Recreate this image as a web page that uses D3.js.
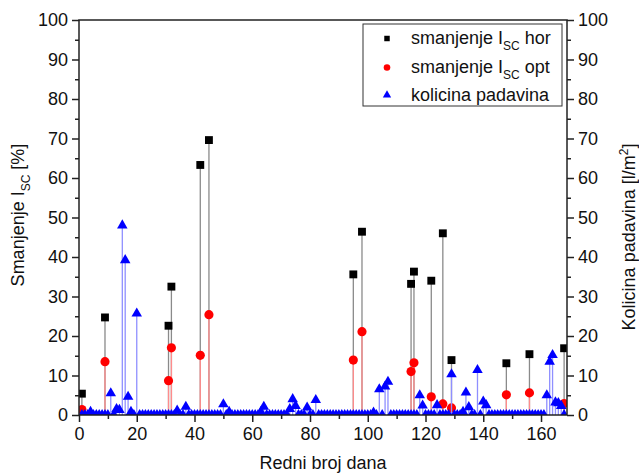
<!DOCTYPE html>
<html><head><meta charset="utf-8">
<script src="https://cdn.jsdelivr.net/npm/d3@7"></script>
<style>body{margin:0;background:#fff} text{font-family:"Liberation Sans",Arial,sans-serif;fill:#111}</style>
</head><body><svg id="c" width="639" height="473"></svg>
<script>
// ---- data ----
const pointDays = [1, 9, 31, 32, 42, 45, 95, 98, 115, 116, 122, 126, 129, 148, 156, 168];
const horValues = [5.4, 24.7, 22.6, 32.5, 63.3, 69.6, 35.6, 46.4, 33.2, 36.3, 34.0, 46.0, 13.9, 13.1, 15.4, 16.9];
const optValues = [1.4, 13.5, 8.7, 17.0, 15.1, 25.4, 13.9, 21.1, 11.0, 13.2, 4.6, 2.8, 1.8, 5.1, 5.6, 2.9];
const rainDays = d3.range(1, 169);
const rainValues = [
  0, 0, 0, 0.8, 0, 0, 0, 0, 0, 0,
  5.5, 0, 1.5, 1.3, 48.0, 39.2, 4.6, 0.8, 0, 25.7,
  0, 0, 0, 0, 0, 0, 0, 0, 0, 0,
  0, 0, 0, 1.1, 0, 0, 2.1, 0, 0, 0,
  0, 0, 0, 0, 0, 0, 0, 0, 0, 2.7,
  0, 0.8, 0, 0, 0, 0, 0, 0, 0, 0,
  0, 0, 0.8, 2.1, 0, 0, 0, 0, 0, 0,
  0, 0, 1.5, 4.0, 2.3, 0, 0, 0, 1.9, 0,
  0, 3.8, 0, 0, 0, 0, 0, 0, 0, 0,
  0, 0, 0, 0, 0, 0, 0, 0, 0, 0,
  0, 0.6, 0, 6.5, 0, 7.2, 8.4, 0, 0, 0,
  0, 0, 0, 0, 0, 0, 0, 5.0, 2.4, 0,
  0, 0, 0, 2.5, 0, 0, 0, 0, 10.3, 0,
  0, 0, 0.8, 5.7, 2.0, 0, 0, 11.4, 0, 3.4,
  2.5, 0, 0, 0, 0, 0, 0, 0, 0, 0,
  0, 0, 0, 0, 0, 0, 0, 0, 0, 0,
  0, 5.0, 13.5, 15.2, 3.2, 3.0, 2.3, 0
];
const xTicks = [0, 20, 40, 60, 80, 100, 120, 140, 160];
const xMinor = [10, 30, 50, 70, 90, 110, 130, 150];
const yTicks = [0, 10, 20, 30, 40, 50, 60, 70, 80, 90, 100];
const yMinor = [5, 15, 25, 35, 45, 55, 65, 75, 85, 95];

// ---- layout ----
const svg = d3.select("#c");
const L = 79, R = 567, T = 20, B = 415;
const x = d3.scaleLinear().domain([0, 169]).range([L, R]);
const y = d3.scaleLinear().domain([0, 100]).range([B, T]);
const yR = d3.scaleLinear().domain([0, 100]).range([B, T]);

svg.append("defs").append("clipPath").attr("id", "clip")
  .append("rect").attr("x", L).attr("y", T).attr("width", R - L).attr("height", B - T);

const fs = 18;
function styleAxis(g) {
  g.select(".domain").remove();
  g.selectAll("line").attr("stroke", "#222").attr("stroke-width", 1.5);
  g.selectAll("text").style("font-size", fs + "px").attr("fill", "#111");
}
svg.append("g").attr("transform", `translate(${L},0)`)
  .call(d3.axisLeft(y).tickValues(yTicks).tickSize(7).tickPadding(4)).call(styleAxis);
svg.append("g").attr("transform", `translate(${L},0)`)
  .call(d3.axisLeft(y).tickValues(yMinor).tickSize(4).tickFormat("")).call(styleAxis);
svg.append("g").attr("transform", `translate(${R},0)`)
  .call(d3.axisRight(yR).tickValues(yTicks).tickSize(7).tickPadding(4)).call(styleAxis);
svg.append("g").attr("transform", `translate(${R},0)`)
  .call(d3.axisRight(yR).tickValues(yMinor).tickSize(4).tickFormat("")).call(styleAxis);
svg.append("g").attr("transform", `translate(0,${B})`)
  .call(d3.axisBottom(x).tickValues(xTicks).tickSize(7).tickPadding(5)).call(styleAxis);
svg.append("g").attr("transform", `translate(0,${B})`)
  .call(d3.axisBottom(x).tickValues(xMinor).tickSize(4).tickFormat("")).call(styleAxis);

// ---- data marks ----
const plot = svg.append("g").attr("clip-path", "url(#clip)");
function series(days, vals, stemColor, fill, sym, size) {
  const data = days.map((d, i) => ({ d, v: vals[i] }));
  const g = plot.append("g");
  g.selectAll("line").data(data.filter(p => p.v > 0)).join("line")
    .attr("x1", p => x(p.d)).attr("x2", p => x(p.d))
    .attr("y1", y(0)).attr("y2", p => y(p.v))
    .attr("stroke", stemColor).attr("stroke-width", 1.3);
  g.selectAll("path").data(data).join("path")
    .attr("d", d3.symbol().type(sym).size(size))
    .attr("transform", p => `translate(${x(p.d)},${y(p.v)})`)
    .attr("fill", fill);
}
series(pointDays, horValues, "#8a8a8a", "#000", d3.symbolSquare, 62);
series(pointDays, optValues, "#ff8c8c", "#ff0000", d3.symbolCircle, 66);
series(rainDays, rainValues, "#8f8fff", "#0000ff", d3.symbolTriangle, 48);

// frame
svg.append("rect").attr("x", L).attr("y", T).attr("width", R - L).attr("height", B - T)
  .attr("fill", "none").attr("stroke", "#222").attr("stroke-width", 1.5);

// ---- legend ----
const lg = svg.append("g");
lg.append("rect").attr("x", 363).attr("y", 24).attr("width", 199).attr("height", 82)
  .attr("fill", "#fff").attr("stroke", "#333").attr("stroke-width", 1);
const legendItems = [
  { sym: d3.symbolSquare, size: 30, fill: "#000", my: 38.5, ty: 43.5, parts: ["smanjenje I", "SC", " hor"] },
  { sym: d3.symbolCircle, size: 34, fill: "#ff0000", my: 67.5, ty: 73, parts: ["smanjenje I", "SC", " opt"] },
  { sym: d3.symbolTriangle, size: 30, fill: "#0000ff", my: 95, ty: 100.5, parts: ["kolicina padavina"] }
];
legendItems.forEach(it => {
  lg.append("path").attr("d", d3.symbol().type(it.sym).size(it.size)())
    .attr("transform", `translate(387,${it.my})`).attr("fill", it.fill);
  const t = lg.append("text").attr("x", 411).attr("y", it.ty).style("font-size", "18px");
  t.append("tspan").text(it.parts[0]);
  if (it.parts.length > 1) {
    t.append("tspan").attr("dy", 6).style("font-size", "12px").text(it.parts[1]);
    t.append("tspan").attr("dy", -6).text(it.parts[2]);
  }
});

// ---- axis titles ----
svg.append("text").attr("x", (L + R) / 2).attr("y", 469).attr("text-anchor", "middle")
  .style("font-size", "18px").text("Redni broj dana");
const yl = svg.append("text").attr("transform", "translate(24,215) rotate(-90)")
  .attr("text-anchor", "middle").style("font-size", "18px");
yl.append("tspan").text("Smanjenje I");
yl.append("tspan").attr("dy", 6).style("font-size", "12px").text("SC");
yl.append("tspan").attr("dy", -6).text(" [%]");
const yr = svg.append("text").attr("transform", "translate(635,237) rotate(-90)")
  .attr("text-anchor", "middle").style("font-size", "18px");
yr.append("tspan").text("Kolicina padavina [l/m");
yr.append("tspan").attr("dy", -7).style("font-size", "12px").text("2");
yr.append("tspan").attr("dy", 7).text("]");
</script></body></html>
